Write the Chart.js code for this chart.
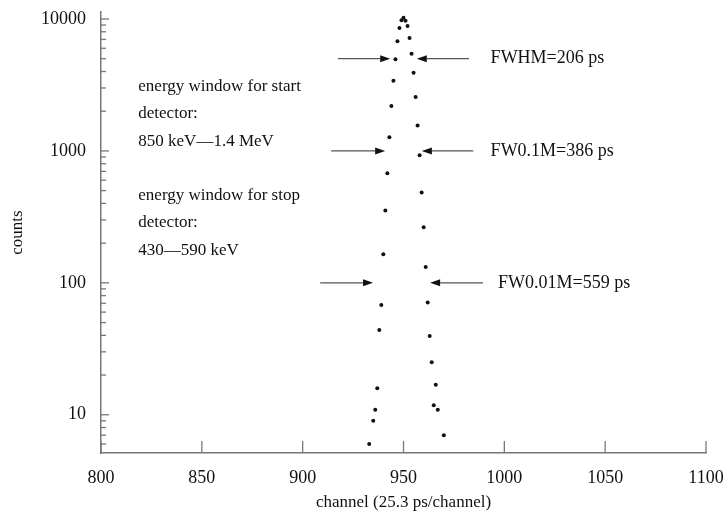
<!DOCTYPE html>
<html>
<head>
<meta charset="utf-8">
<script src="https://cdn.jsdelivr.net/npm/chart.js@4"></script>
<style>
  html, body { margin: 0; padding: 0; background: #fff; }
  #wrap { width: 723px; height: 516px; }
</style>
</head>
<body>
<div id="wrap"><canvas id="timing_chart"></canvas></div>
<script>
// time spectrum, one point per channel
const channels = [933, 935, 936, 937, 938, 939, 940, 941, 942, 943, 944, 945, 946, 947, 948, 949, 950, 951,
  952, 953, 954, 955, 956, 957, 958, 959, 960, 961, 962, 963, 964, 965, 966, 967, 970];
const counts = [6.0, 9.0, 10.9, 15.9, 44, 68, 165, 353, 678, 1270, 2190, 3410, 4950, 6780, 8550, 9800, 10200, 9700,
  8850, 7180, 5460, 3920, 2560, 1556, 927, 483, 264, 132, 71, 39.5, 25, 11.8, 16.9, 10.9, 7.0];

const xTicks = [800, 850, 900, 950, 1000, 1050, 1100];
const yMajorTicks = [10, 100, 1000, 10000];
const yMinorSteps = [2, 3, 4, 5, 6, 7, 8, 9];

// width markers: level, left arrow (from -> to), right arrow (from -> to), label
const markerLevels = [5000, 1000, 100];
const leftArrowFrom = [917.5, 914.1, 908.7];
const leftArrowTo = [943.4, 940.9, 934.9];
const rightArrowFrom = [982.5, 984.6, 989.4];
const rightArrowTo = [956.6, 959.1, 963.2];
const markerLabels = ["FWHM=206 ps", "FW0.1M=386 ps", "FW0.01M=559 ps"];
const markerLabelX = [993.2, 993.2, 996.9];

// energy window notes
const noteLines = ["energy window for start", "detector:", "850 keV\u20141.4 MeV",
  "energy window for stop", "detector:", "430\u2014590 keV"];
const noteLevels = [3070, 1905, 1175, 456, 285, 176];
const noteX = 818.5;

const SERIF = "'Liberation Serif', 'Times New Roman', serif";
const AXIS_COLOR = "#777";

function buildYTicks(min, max) {
  const values = [];
  yMajorTicks.forEach(function (p) {
    values.push(p);
    yMinorSteps.forEach(function (m) { values.push((p / 10) * m); });
  });
  return values.filter(function (v) { return v >= min && v <= max; })
    .sort(function (a, b) { return a - b; });
}

function drawArrow(ctx, x0, x1, y) {
  const dir = x1 > x0 ? 1 : -1;
  const head = 10;
  ctx.strokeStyle = "#555";
  ctx.lineWidth = 1.3;
  ctx.beginPath();
  ctx.moveTo(x0, y);
  ctx.lineTo(x1 - dir * head, y);
  ctx.stroke();
  ctx.fillStyle = "#111";
  ctx.beginPath();
  ctx.moveTo(x1, y);
  ctx.lineTo(x1 - dir * head, y - 3.5);
  ctx.lineTo(x1 - dir * head, y + 3.5);
  ctx.closePath();
  ctx.fill();
}

// inward tick marks plus the annotations
const decorPlugin = {
  id: "decor",
  afterDatasetsDraw(chart) {
    const ctx = chart.ctx;
    const xs = chart.scales.x;
    const ys = chart.scales.y;
    const area = chart.chartArea;
    ctx.save();

    ctx.strokeStyle = AXIS_COLOR;
    ctx.lineWidth = 1.3;
    xTicks.forEach(function (v) {
      const px = xs.getPixelForValue(v);
      ctx.beginPath();
      ctx.moveTo(px, area.bottom);
      ctx.lineTo(px, area.bottom - 12);
      ctx.stroke();
    });
    buildYTicks(ys.min, ys.max).forEach(function (v) {
      const py = ys.getPixelForValue(v);
      const len = yMajorTicks.includes(v) ? 8 : 5;
      ctx.beginPath();
      ctx.moveTo(area.left, py);
      ctx.lineTo(area.left + len, py);
      ctx.stroke();
    });

    markerLevels.forEach(function (lvl, i) {
      const py = ys.getPixelForValue(lvl);
      drawArrow(ctx, xs.getPixelForValue(leftArrowFrom[i]), xs.getPixelForValue(leftArrowTo[i]), py);
      drawArrow(ctx, xs.getPixelForValue(rightArrowFrom[i]), xs.getPixelForValue(rightArrowTo[i]), py);
      ctx.fillStyle = "#111";
      ctx.font = "18px " + SERIF;
      ctx.textAlign = "left";
      ctx.textBaseline = "middle";
      ctx.fillText(markerLabels[i], xs.getPixelForValue(markerLabelX[i]), py);
    });

    ctx.font = "17px " + SERIF;
    ctx.fillStyle = "#111";
    ctx.textAlign = "left";
    ctx.textBaseline = "middle";
    noteLines.forEach(function (t, i) {
      ctx.fillText(t, xs.getPixelForValue(noteX), ys.getPixelForValue(noteLevels[i]));
    });
    ctx.restore();
  },
};

function createTimingChart() {
  const points = channels.map(function (c, i) { return { x: c, y: counts[i] }; });

  const config = {
    type: "scatter",
    data: {
      datasets: [
        {
          data: points,
          pointRadius: 2,
          pointHoverRadius: 2,
          pointBackgroundColor: "#111",
          pointBorderWidth: 0,
        },
      ],
    },
    options: {
      responsive: true,
      maintainAspectRatio: false,
      animation: false,
      events: [],
      layout: { autoPadding: false, padding: { top: 12, right: 17, left: 0, bottom: 0 } },
      plugins: {
        legend: { display: false },
        tooltip: { enabled: false },
      },
      scales: {
        x: {
          type: "linear",
          min: 800,
          max: 1100,
          afterBuildTicks: function (s) { s.ticks = xTicks.map(function (v) { return { value: v }; }); },
          afterFit: function (s) {
            s.height = 63;
            s.paddingLeft = 0;
            s.paddingRight = 0;
          },
          grid: { display: false, drawTicks: false },
          border: { display: true, color: AXIS_COLOR, width: 1.5 },
          ticks: {
            color: "#111",
            font: { family: SERIF, size: 18 },
            padding: 14,
            maxRotation: 0,
            autoSkip: false,
            callback: function (v) { return String(v); },
          },
          title: {
            display: true,
            text: "channel (25.3 ps/channel)",
            color: "#111",
            font: { family: SERIF, size: 17 },
            padding: { top: 0, bottom: 3 },
          },
        },
        y: {
          type: "logarithmic",
          min: 5.13,
          max: 11300,
          afterBuildTicks: function (s) {
            s.ticks = buildYTicks(s.min, s.max).map(function (v) { return { value: v }; });
          },
          afterFit: function (s) {
            s.width = 101;
            s.paddingTop = 0;
            s.paddingBottom = 0;
          },
          grid: { display: false, drawTicks: false },
          border: { display: true, color: AXIS_COLOR, width: 1.5 },
          ticks: {
            color: "#111",
            font: { family: SERIF, size: 18 },
            padding: 15,
            autoSkip: false,
            callback: function (v) { return yMajorTicks.includes(v) ? String(v) : ""; },
          },
          title: {
            display: true,
            text: "counts",
            color: "#111",
            font: { family: SERIF, size: 17 },
            padding: { top: 7, bottom: 0 },
          },
        },
      },
    },
    plugins: [decorPlugin],
  };

  new Chart(document.getElementById("timing_chart"), config);
}

window.addEventListener("DOMContentLoaded", function () {
  createTimingChart();
});
</script>
</body>
</html>
